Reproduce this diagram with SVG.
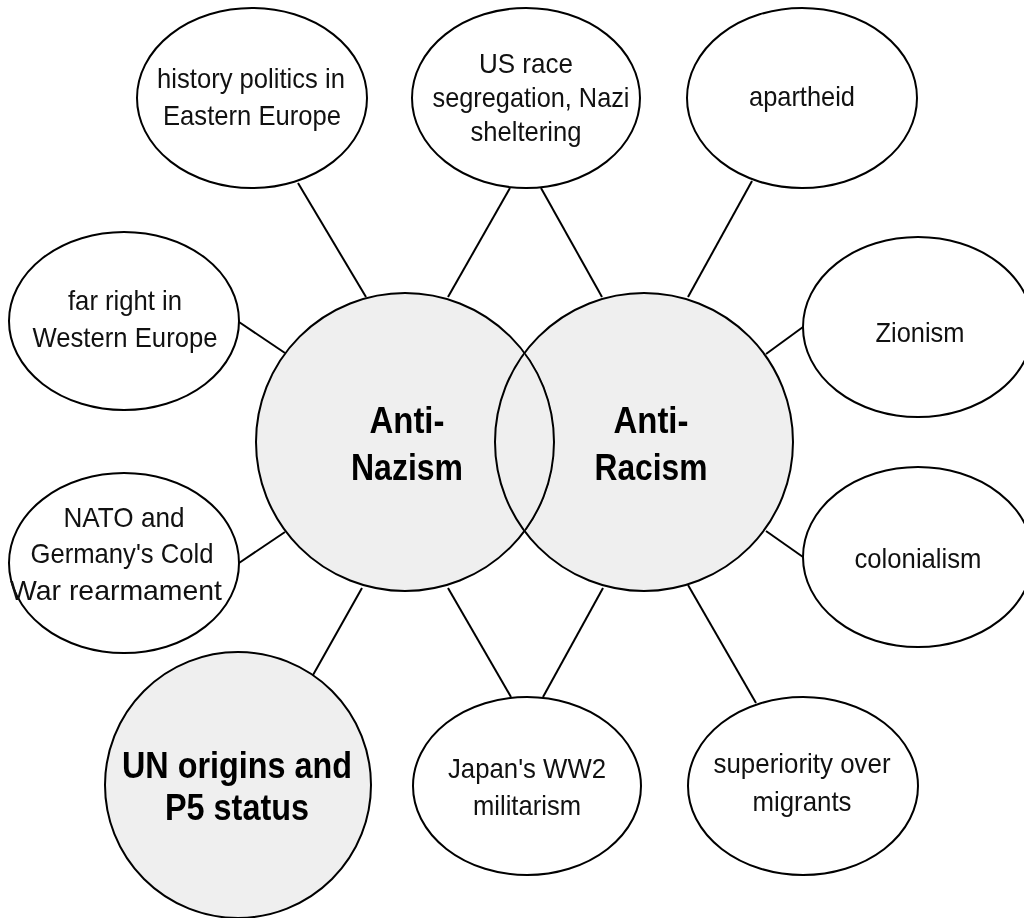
<svg xmlns="http://www.w3.org/2000/svg" width="1024" height="918" viewBox="0 0 1024 918">
<style>
.edge{stroke:#000;stroke-width:2;fill:none}
.node{fill:#fff;stroke:#000;stroke-width:2}
.hub{fill:#efefef;stroke:#000;stroke-width:2}
.lbl{font-family:"Liberation Sans",Arial,sans-serif;font-size:28px;fill:#111;text-anchor:middle}
.big{font-family:"Liberation Sans",Arial,sans-serif;font-size:37px;font-weight:bold;fill:#000;text-anchor:middle}
</style>
<rect width="1024" height="918" fill="#fff"/>
<g id="connectors">
<line class="edge" x1="298" y1="183" x2="366" y2="297"/>
<line class="edge" x1="510" y1="188" x2="448" y2="297"/>
<line class="edge" x1="541" y1="188" x2="602" y2="297"/>
<line class="edge" x1="752" y1="181" x2="688" y2="297"/>
<line class="edge" x1="803" y1="327" x2="766" y2="354"/>
<line class="edge" x1="803" y1="557" x2="766" y2="531"/>
<line class="edge" x1="688" y1="585" x2="756" y2="703"/>
<line class="edge" x1="603" y1="588" x2="543" y2="697"/>
<line class="edge" x1="448" y1="588" x2="511" y2="697"/>
<line class="edge" x1="362" y1="588" x2="313" y2="675"/>
<line class="edge" x1="239" y1="563" x2="285" y2="532"/>
<line class="edge" x1="239" y1="322" x2="285" y2="353"/>
</g>
<g id="anti-nazism">
<circle class="hub" cx="405" cy="442" r="149"/>
<text class="big" x="407" y="433" textLength="75" lengthAdjust="spacingAndGlyphs">Anti-</text>
<text class="big" x="407" y="480" textLength="112" lengthAdjust="spacingAndGlyphs">Nazism</text>
</g>
<g id="anti-racism">
<circle class="hub" cx="644" cy="442" r="149" style="mix-blend-mode:darken"/>
<text class="big" x="651" y="433" textLength="75" lengthAdjust="spacingAndGlyphs">Anti-</text>
<text class="big" x="651" y="480" textLength="113" lengthAdjust="spacingAndGlyphs">Racism</text>
</g>
<g id="history-politics">
<ellipse class="node" cx="252" cy="98" rx="115" ry="90"/>
<text class="lbl" x="251" y="88" textLength="188" lengthAdjust="spacingAndGlyphs">history politics in</text>
<text class="lbl" x="252" y="125" textLength="178" lengthAdjust="spacingAndGlyphs">Eastern Europe</text>
</g>
<g id="us-race">
<ellipse class="node" cx="526" cy="98" rx="114" ry="90"/>
<text class="lbl" x="526" y="73" textLength="94" lengthAdjust="spacingAndGlyphs">US race</text>
<text class="lbl" x="531" y="107" textLength="197" lengthAdjust="spacingAndGlyphs">segregation, Nazi</text>
<text class="lbl" x="526" y="141" textLength="111" lengthAdjust="spacingAndGlyphs">sheltering</text>
</g>
<g id="apartheid">
<ellipse class="node" cx="802" cy="98" rx="115" ry="90"/>
<text class="lbl" x="802" y="106" textLength="106" lengthAdjust="spacingAndGlyphs">apartheid</text>
</g>
<g id="far-right">
<ellipse class="node" cx="124" cy="321" rx="115" ry="89"/>
<text class="lbl" x="125" y="310" textLength="114" lengthAdjust="spacingAndGlyphs">far right in</text>
<text class="lbl" x="125" y="347" textLength="185" lengthAdjust="spacingAndGlyphs">Western Europe</text>
</g>
<g id="zionism">
<ellipse class="node" cx="918" cy="327" rx="115" ry="90"/>
<text class="lbl" x="920" y="342" textLength="89" lengthAdjust="spacingAndGlyphs">Zionism</text>
</g>
<g id="nato">
<ellipse class="node" cx="124" cy="563" rx="115" ry="90"/>
<text class="lbl" x="124" y="527" textLength="121" lengthAdjust="spacingAndGlyphs">NATO and</text>
<text class="lbl" x="122" y="563" textLength="183" lengthAdjust="spacingAndGlyphs">Germany's Cold</text>
<text class="lbl" x="116" y="600" textLength="212" lengthAdjust="spacingAndGlyphs">War rearmament</text>
</g>
<g id="colonialism">
<ellipse class="node" cx="918" cy="557" rx="115" ry="90"/>
<text class="lbl" x="918" y="568" textLength="127" lengthAdjust="spacingAndGlyphs">colonialism</text>
</g>
<g id="un-origins">
<circle class="hub" cx="238" cy="785" r="133"/>
<text class="big" x="237" y="778" textLength="230" lengthAdjust="spacingAndGlyphs">UN origins and</text>
<text class="big" x="237" y="820" textLength="144" lengthAdjust="spacingAndGlyphs">P5 status</text>
</g>
<g id="japan">
<ellipse class="node" cx="527" cy="786" rx="114" ry="89"/>
<text class="lbl" x="527" y="778" textLength="158" lengthAdjust="spacingAndGlyphs">Japan's WW2</text>
<text class="lbl" x="527" y="815" textLength="108" lengthAdjust="spacingAndGlyphs">militarism</text>
</g>
<g id="superiority">
<ellipse class="node" cx="803" cy="786" rx="115" ry="89"/>
<text class="lbl" x="802" y="773" textLength="177" lengthAdjust="spacingAndGlyphs">superiority over</text>
<text class="lbl" x="802" y="811" textLength="99" lengthAdjust="spacingAndGlyphs">migrants</text>
</g>
</svg>
